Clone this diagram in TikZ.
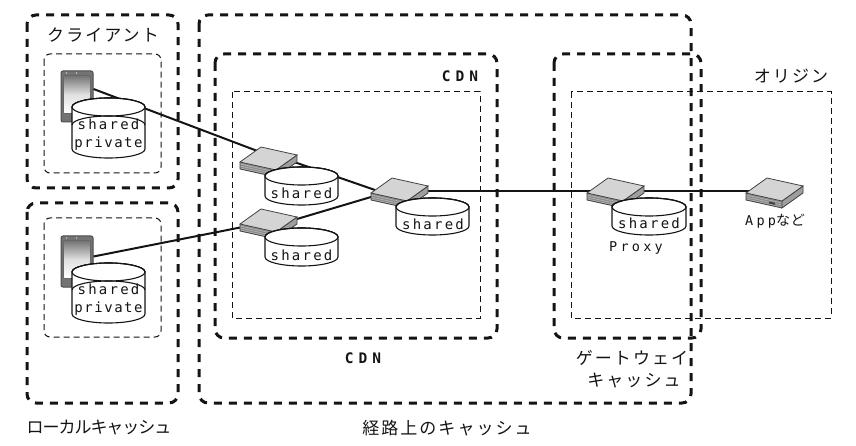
\documentclass[tikz,border=0pt]{standalone}
\usepackage{fontspec}
\newfontfamily\jpfont[LetterSpace=12]{Noto Sans CJK JP}
\newfontfamily\jptight[LetterSpace=-6]{Noto Sans CJK JP}
\newfontfamily\lblfont[LetterSpace=16]{DejaVu Sans Mono}
\newfontfamily\privfont[LetterSpace=11]{DejaVu Sans Mono}
\newfontfamily\widefont[LetterSpace=24]{DejaVu Sans Mono}
\newfontfamily\cdnfont[LetterSpace=34]{DejaVu Sans Mono Bold}
\newfontfamily\jpsmall[LetterSpace=6]{Noto Sans CJK JP}
\colorlet{ink}{black!92}
\tikzset{
  heavybox/.style={draw=ink,line width=3pt,dash pattern=on 8pt off 7pt,rounded corners=9pt},
  lightbox/.style={draw=ink,line width=1pt,dash pattern=on 6pt off 4pt},
  lightround/.style={lightbox,rounded corners=6pt},
  link/.style={draw=ink,line width=2pt},
  lbl/.style={font=\lblfont\fontsize{14}{15}\selectfont,text=ink,inner sep=0pt},
  privlbl/.style={font=\privfont\fontsize{14}{15}\selectfont,text=ink,inner sep=0pt},
  widelbl/.style={font=\widefont\fontsize{13.5}{15}\selectfont,text=ink,inner sep=0pt},
  cdnlbl/.style={font=\cdnfont\fontsize{14.5}{15}\selectfont,text=ink,inner sep=0pt},
  jp/.style={font=\jpfont\fontsize{17}{19}\selectfont,text=ink,inner sep=0pt},
  cylline/.style={draw=ink,line width=1.1pt,fill=white},
  srv/.style={draw=black!75,line width=.8pt},
  phonebody/.style={draw=black!70,line width=1pt,fill=black!55,rounded corners=2pt,minimum width=32pt,minimum height=51pt,inner sep=0pt},
}
\newcommand{\srvbox}[3]{% name, left corner x, y
  \coordinate (#1) at (#2,#3);
  \fill[black!45] ($(#1)+(0,0)$) -- ++(36,8) -- ++(0,7) -- ++(-36,-8) -- cycle;
  \foreach \k in {2,4,6}{\draw[black!20,line width=.35pt] ($(#1)+(0,\k)$) -- ++(36,8);}
  \draw[srv,fill=black!38] ($(#1)+(36,8)$) -- ($(#1)+(57,-7)$) -- ($(#1)+(57,0)$) -- ($(#1)+(36,15)$) -- cycle;
  \draw[srv] ($(#1)+(0,0)$) -- ($(#1)+(0,7)$) -- ($(#1)+(36,15)$);
  \draw[srv,fill=black!17] ($(#1)+(0,0)$) -- ($(#1)+(21,-15)$) -- ($(#1)+(57,-7)$) -- ($(#1)+(36,8)$) -- cycle;
}
\newcommand{\cylshape}[4]{% left x, right x, top y, bottom y
  \path[cylline] (#1,#3+9) arc[start angle=180,end angle=360,x radius=(#2-#1)/2,y radius=9] -- (#2,#4-9)
     arc[start angle=0,end angle=180,x radius=(#2-#1)/2,y radius=9] -- cycle;
  \path[cylline] ({(#1+#2)/2},#3+9) ellipse[x radius=(#2-#1)/2,y radius=9];
  \draw[ink,line width=1.1pt] (#1,#3+9) arc[start angle=180,end angle=360,x radius=(#2-#1)/2,y radius=9];
}
\usetikzlibrary{calc}
\begin{document}
\begin{tikzpicture}[x=1pt,y=-1pt]
\useasboundingbox (0,0) rectangle (856,446);
% boxes
\draw[heavybox] (27,15) rectangle (178,188);
\draw[heavybox] (27,203) rectangle (178,403);
\draw[heavybox] (199,15) rectangle (691,403);
\draw[heavybox] (215,54) rectangle (497,338);
\draw[heavybox] (554,54) rectangle (701,338);
\draw[lightround] (44,54) rectangle (161,173);
\draw[lightround] (44,218) rectangle (161,337);
\draw[lightbox] (232,92) rectangle (480,318);
\draw[lightbox] (571,92) rectangle (831,318);
% anchors for the connectors
\node[phonebody] (ph1) at (77,96.5) {};
\node[phonebody] (ph2) at (77,261.5) {};
\coordinate (s1in) at (268,155);
\coordinate (s1out) at (297,163);
\coordinate (s2in) at (268,222);
\coordinate (s2out) at (297,219);
\coordinate (s3in) at (375,190);
\coordinate (s3port) at (371,197);
\coordinate (s3out) at (428,191);
\coordinate (s4port) at (600,191);
\coordinate (s5port) at (752,191);
% connectors
\draw[link] ([yshift=7.5pt]ph1.east) -- (s1in) -- (s1out) -- (s3in);
\draw[link] ([yshift=5pt]ph2.east) -- (s2in) -- (s2out) -- (s3port);
\draw[link] (s3out) -- (s4port) -- (s5port);
% phone screens
\foreach \n in {ph1,ph2}{
  \draw[black!60,line width=.6pt,top color=black!55,bottom color=white,middle color=black!12,rounded corners=1pt]
    ($(\n.north west)+(3,5)$) rectangle ($(\n.south east)+(-3,-9)$);
  \fill[black!25] ($(\n.north west)+(6,2.5)$) circle (.8);
  \fill[black!25] ($(\n.north west)+(16,2.5)$) circle (.8);
}
% servers
\srvbox{s1}{240}{162}
\srvbox{s2}{240}{224}
\srvbox{s3}{371}{193}
\srvbox{s4}{587}{193}
\srvbox{s5}{746}{193}
\fill[black!75] (769,201.5) -- ++(6,1.3) -- ++(0,2) -- ++(-6,-1.3) -- cycle;
% cylinders
\cylshape{72}{145}{98}{158}
\draw[ink,line width=1.1pt] (72,125) arc[start angle=180,end angle=360,x radius=36.5,y radius=9];
\cylshape{72}{145}{263}{323}
\draw[ink,line width=1.1pt] (72,290) arc[start angle=180,end angle=360,x radius=36.5,y radius=9];
\cylshape{265}{338}{167}{205}
\cylshape{265}{338}{228}{266}
\cylshape{396}{469}{198}{235}
\cylshape{612}{686}{198}{235}
% cylinder labels
\node[lbl] (c1a) at (108.5,124.5) {shared};
\node[privlbl] (c1b) at (108.5,144) {private};
\node[lbl] (c2a) at (108.5,289) {shared};
\node[privlbl] (c2b) at (108.5,308.5) {private};
\node[lbl] (c3) at (301.5,193) {shared};
\node[lbl] (c4) at (301.5,255) {shared};
\node[lbl] (c5) at (433,224) {shared};
\node[lbl] (c6) at (649,223) {shared};
% text labels
\node[jp] (tclient) at (103,35) {クライアント};
\node[cdnlbl] (tcdn1) at (460,76) {CDN};
\node[cdnlbl] (tcdn2) at (363,358) {CDN};
\node[jp] (torigin) at (791,76) {オリジン};
\node[widelbl] (tproxy) at (636,248) {Proxy};
\node[widelbl] (tapp) at (775,221) {App\jpsmall\fontsize{14}{15}\selectfont など};
\node[jp] (tgw1) at (632,358) {ゲートウェイ};
\node[jp] (tgw2) at (634,381) {キャッシュ};
\node[jp,font=\jptight\fontsize{17}{19}\selectfont] (tlocal) at (99,428) {ローカルキャッシュ};
\node[jp] (troute) at (447,428) {経路上のキャッシュ};
\end{tikzpicture}
\end{document}
